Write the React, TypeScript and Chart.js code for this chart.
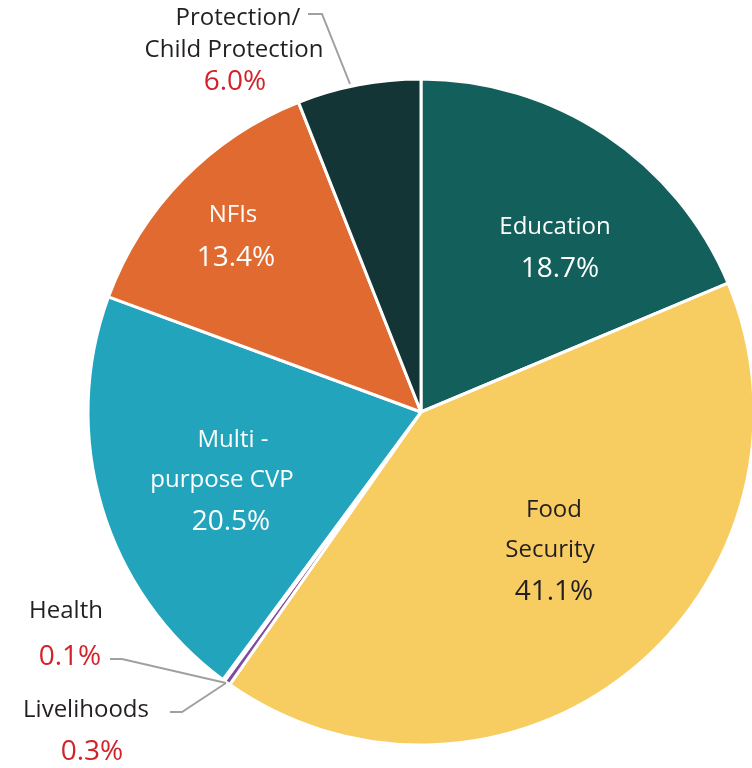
import React, { useEffect, useRef } from "react";
import { Chart, registerables } from "chart.js";

Chart.register(...registerables);

const categories = [
  "Education",
  "Food Security",
  "Livelihoods",
  "Health",
  "Multi-purpose CVP",
  "NFIs",
  "Protection/ Child Protection",
];
const values = [18.7, 41.1, 0.3, 0.1, 20.5, 13.4, 6.0];
const valueLabels = ["18.7%", "41.1%", "0.3%", "0.1%", "20.5%", "13.4%", "6.0%"];
const labelLines = [
  ["Education"],
  ["Food", "Security"],
  ["Livelihoods"],
  ["Health"],
  ["Multi -", "purpose CVP"],
  ["NFIs"],
  ["Protection/", "Child Protection"],
];
const colors = ["#135F5B", "#F7CD61", "#7D4E9E", "#A7A9AC", "#22A4BC", "#E06A2F", "#133536"];

// label placement (offset from pie centre, in px at reference radius), and style
const FONT = "'Open Sans', sans-serif";
type LabelCfg = { x: number[]; y: number[]; py: number; px: number; color: string; pctColor: string };
const R0 = 333;
const labelCfg: LabelCfg[] = [
  { x: [134], y: [-185], px: 139, py: -143, color: "#FFFFFF", pctColor: "#FFFFFF" },
  { x: [133, 129], y: [98, 138], px: 133, py: 180, color: "#231F20", pctColor: "#231F20" },
  { x: [-335], y: [298], px: -329, py: 340, color: "#231F20", pctColor: "#D2232A" },
  { x: [-355], y: [199], px: -351, py: 245, color: "#231F20", pctColor: "#D2232A" },
  { x: [-188, -199], y: [28, 68], px: -190, py: 110, color: "#FFFFFF", pctColor: "#FFFFFF" },
  { x: [-188], y: [-197], px: -185, py: -154, color: "#FFFFFF", pctColor: "#FFFFFF" },
  { x: [-183, -187], y: [-394, -362], px: -186, py: -330, color: "#231F20", pctColor: "#D2232A" },
];

const leaderLines: number[][][] = [
  [[-113, -398], [-99, -398], [-71, -328]],
  [[-311, 247], [-299, 247], [-195, 271]],
  [[-251, 300], [-239, 300], [-195, 271]],
];

const labelPlugin = {
  id: "sliceLabels",
  afterDatasetsDraw(chart: any) {
    const meta = chart.getDatasetMeta(0);
    const arc0 = meta.data[0];
    if (!arc0) return;
    const cx = arc0.x;
    const cy = arc0.y;
    const s = arc0.outerRadius / R0;
    const ctx = chart.ctx;
    ctx.save();
    ctx.strokeStyle = "#A0A0A0";
    ctx.lineWidth = 2;
    leaderLines.forEach((pts) => {
      ctx.beginPath();
      pts.forEach((p, i) => {
        const X = cx + p[0] * s;
        const Y = cy + p[1] * s;
        if (i === 0) ctx.moveTo(X, Y);
        else ctx.lineTo(X, Y);
      });
      ctx.stroke();
    });
    ctx.textAlign = "center";
    ctx.textBaseline = "middle";
    labelCfg.forEach((c, i) => {
      ctx.fillStyle = c.color;
      ctx.font = `24px ${FONT}`;
      labelLines[i].forEach((line, j) => {
        ctx.fillText(line, cx + c.x[j] * s, cy + c.y[j] * s);
      });
      ctx.fillStyle = c.pctColor;
      ctx.font = `28px ${FONT}`;
      ctx.fillText(valueLabels[i], cx + c.px * s, cy + c.py * s);
    });
    ctx.restore();
  },
};

export default function App() {
  const ref = useRef<HTMLCanvasElement>(null);
  useEffect(() => {
    if (!ref.current) return;
    const chart = new Chart(ref.current, {
      type: "pie",
      data: {
        labels: categories,
        datasets: [
          {
            data: values,
            backgroundColor: colors,
            borderColor: "#FFFFFF",
            borderWidth: 3,
          },
        ],
      },
      options: {
        responsive: false,
        animation: false,
        layout: { padding: { left: 86.5, right: 86.5, top: 77.5, bottom: 21.5 } },
        plugins: { legend: { display: false }, tooltip: { enabled: false } },
      },
      plugins: [labelPlugin],
    });
    return () => chart.destroy();
  }, []);
  return (
    <div
      style={{
        position: "absolute",
        left: 0,
        top: 0,
        width: 752,
        height: 768,
        overflow: "hidden",
        background: "#FFFFFF",
      }}
    >
      <canvas ref={ref} width={842} height={768} style={{ width: 842, height: 768, display: "block" }} />
    </div>
  );
}
